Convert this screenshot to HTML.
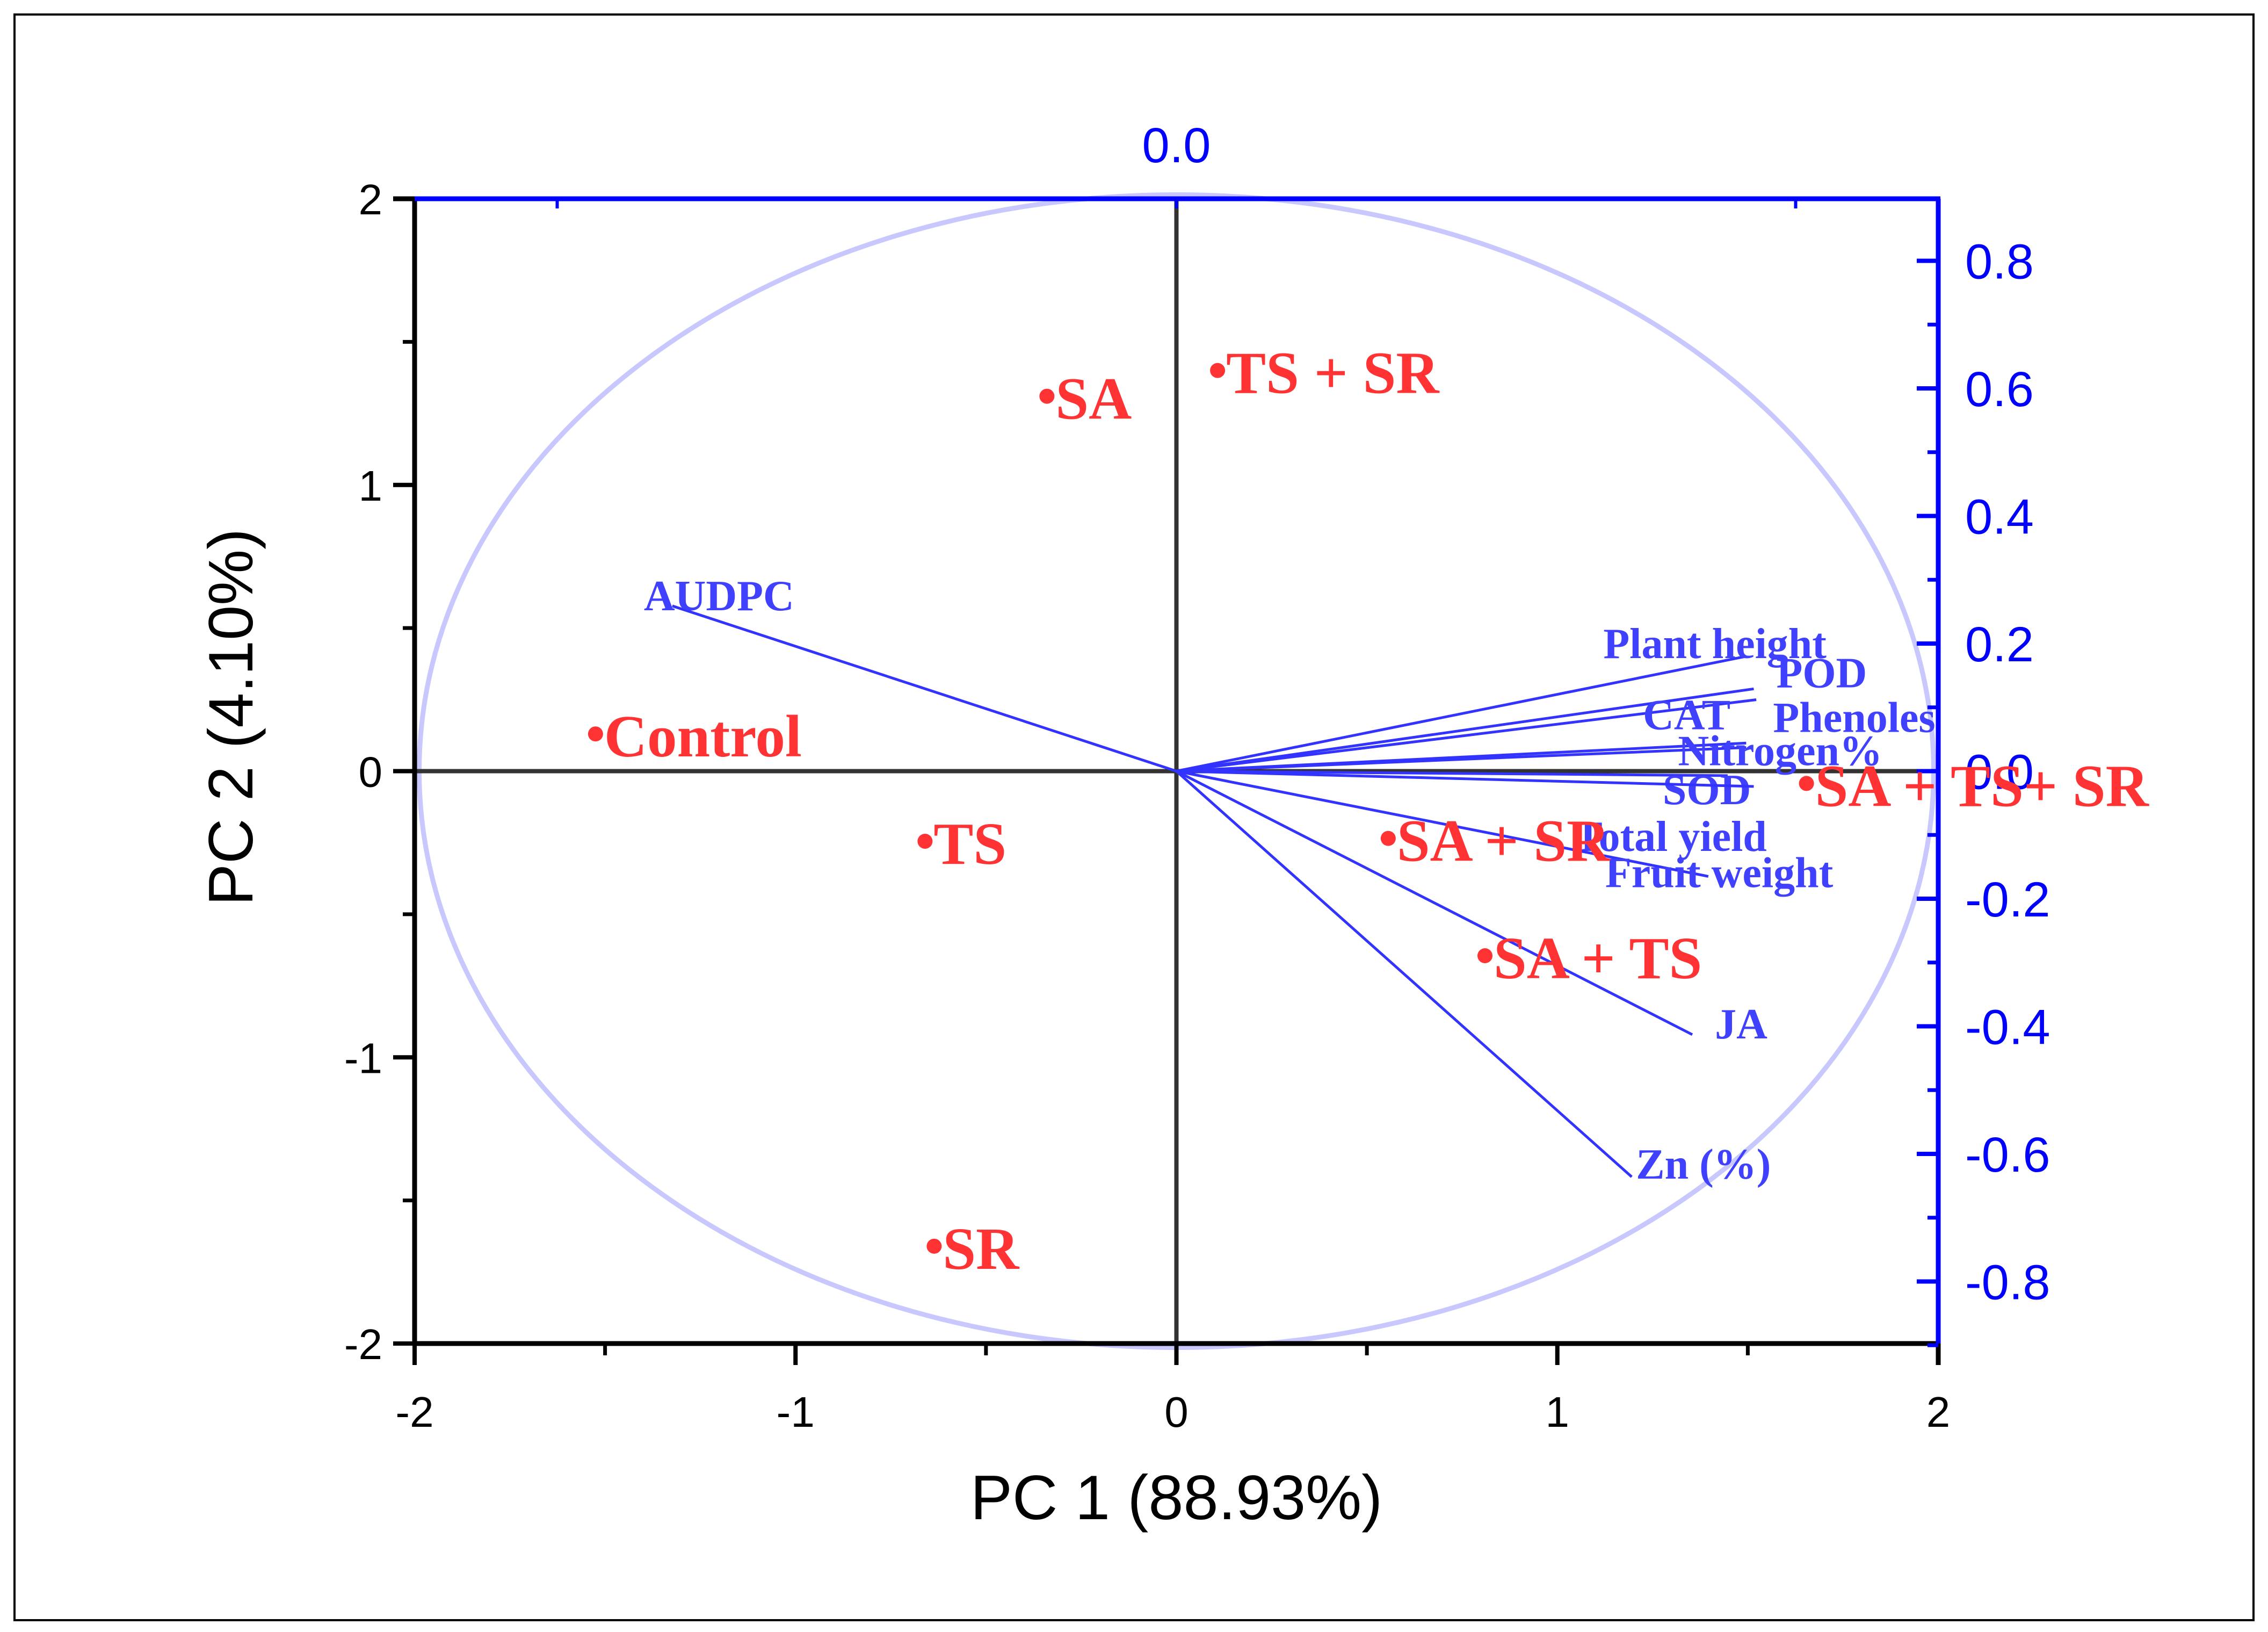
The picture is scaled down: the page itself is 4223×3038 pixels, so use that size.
<!DOCTYPE html>
<html><head><meta charset="utf-8"><style>
html,body{margin:0;padding:0;background:#fff;}
svg{display:block;}
</style></head><body>
<svg id="chart" width="4223" height="3038" viewBox="0 0 4223 3038" xmlns="http://www.w3.org/2000/svg">
<rect x="27" y="27" width="4169" height="2989" fill="#fff" stroke="#000" stroke-width="4"/>
<g id="layer"></g>
</svg>
<script>
// score data (PC1, PC2)
const scoreNames = ["SA","TS + SR","Control","TS","SR","SA + SR","SA + TS","SA + TS+ SR"];
const scoreX = [-0.34, 0.108, -1.525, -0.66, -0.636, 0.556, 0.81, 1.654];
const scoreY = [1.31, 1.40, 0.13, -0.245, -1.66, -0.235, -0.645, -0.043];
// loadings
const loadNames = ["AUDPC","Plant height","POD","CAT","Phenoles","Nitrogen%","SOD","Total yield","Fruit weight","JA","Zn (%)"];
const loadX = [-0.599, 0.677, 0.686, 0.689, 0.677, 0.677, 0.655, 0.686, 0.632, 0.613, 0.541];
const loadY = [0.259, 0.180, 0.129, 0.112, 0.044, 0.037, -0.007, -0.024, -0.165, -0.413, -0.636];
// label offsets (px) relative to vector tips
const loadLabDX = [-53, -266, 42, -211, 50, -127, -121, -335, -192, 42, 8];
const loadLabDY = [8, 3, -3, 55, -21, 33, 53, 120, 20, 7, 3];
const bottomTicks = [-2,-1,0,1,2];
const leftTicks = [-2,-1,0,1,2];
const rightTicks = [-0.8,-0.6,-0.4,-0.2,0.0,0.2,0.4,0.6,0.8];

const L=772, R=3609, T=370, B=2501;
const sx = v => L + (v+2)/4*(R-L);
const sy = v => B - (v+2)/4*(B-T);
const cx = sx(0), cy = sy(0);
const lx = v => cx + v*1567;
const ly = v => cy - v*1187.5;

const NS="http://www.w3.org/2000/svg";
const g=document.getElementById('layer');
function mk(tag, attrs, parent){const e=document.createElementNS(NS,tag);for(const k in attrs)e.setAttribute(k,attrs[k]);(parent||g).appendChild(e);return e;}

let el=mk('ellipse',{cx:cx,cy:cy,rx:1410,ry:1073,fill:'none',stroke:'#c8c8ff','stroke-width':9});


el=mk('line',{x1:L,y1:cy,x2:R,y2:cy,stroke:'#333','stroke-width':8});


el=mk('line',{x1:cx,y1:T,x2:cx,y2:B,stroke:'#333','stroke-width':8});



loadNames.forEach((n,i)=>{
  const x2=lx(loadX[i]), y2=ly(loadY[i]);
  const ln=mk('line',{x1:cx,y1:cy,x2:x2,y2:y2,stroke:'#3333ff','stroke-width':5});
  
  
  const t=mk('text',{x:x2+loadLabDX[i],y:y2+loadLabDY[i],fill:'#4040ff','font-family':'Liberation Serif, serif','font-weight':'bold','font-size':80});
  t.textContent=n;
  
  
});

el=mk('line',{x1:L,y1:B,x2:R,y2:B,stroke:'#000','stroke-width':9});


el=mk('line',{x1:L,y1:T,x2:L,y2:B,stroke:'#000','stroke-width':9});


el=mk('line',{x1:L-4,y1:T,x2:R+4,y2:T,stroke:'#0000ff','stroke-width':9});


el=mk('line',{x1:R,y1:T,x2:R,y2:B,stroke:'#0000ff','stroke-width':9});


mk('line',{x1:L-40,y1:T,x2:L,y2:T,stroke:'#000','stroke-width':9});
mk('line',{x1:R,y1:B,x2:R,y2:B+40,stroke:'#000','stroke-width':9});

bottomTicks.forEach(v=>{
  mk('line',{x1:sx(v),y1:B,x2:sx(v),y2:B+40,stroke:'#000','stroke-width':8});
  const t=mk('text',{x:sx(v),y:B+155,'text-anchor':'middle','font-family':'Liberation Sans, sans-serif','font-size':80,fill:'#000'});
  t.textContent=String(v);
  
  
});
[-1.5,-0.5,0.5,1.5].forEach(v=>mk('line',{x1:sx(v),y1:B,x2:sx(v),y2:B+22,stroke:'#000','stroke-width':7}));
leftTicks.forEach(v=>{
  mk('line',{x1:L-40,y1:sy(v),x2:L,y2:sy(v),stroke:'#000','stroke-width':8});
  const t=mk('text',{x:L-60,y:sy(v)+29,'text-anchor':'end','font-family':'Liberation Sans, sans-serif','font-size':80,fill:'#000'});
  t.textContent=String(v);
  
  
});
[-1.5,-0.5,0.5,1.5].forEach(v=>mk('line',{x1:L-22,y1:sy(v),x2:L,y2:sy(v),stroke:'#000','stroke-width':7}));
rightTicks.forEach(v=>{
  mk('line',{x1:R-40,y1:ly(v),x2:R,y2:ly(v),stroke:'#0000ff','stroke-width':8});
  const t=mk('text',{x:R+50,y:ly(v)+33,'font-family':'Liberation Sans, sans-serif','font-size':92,fill:'#0000ff'});
  t.textContent=v.toFixed(1);
  
  
});
[-0.9,-0.7,-0.5,-0.3,-0.1,0.1,0.3,0.5,0.7].forEach(v=>mk('line',{x1:R-20,y1:ly(v),x2:R,y2:ly(v),stroke:'#0000ff','stroke-width':7}));
[-1153,0,1153].forEach(d=>mk('line',{x1:cx+d,y1:T,x2:cx+d,y2:T+18,stroke:'#0000ff','stroke-width':6}));
el=mk('text',{x:cx,y:302,'text-anchor':'middle','font-family':'Liberation Sans, sans-serif','font-size':92,fill:'#0000ff'});
el.textContent='0.0';



el=mk('text',{x:cx,y:2828,'text-anchor':'middle','font-family':'Liberation Sans, sans-serif','font-size':117,fill:'#000'});
el.textContent='PC 1 (88.93%)';


el=mk('text',{x:0,y:0,'text-anchor':'middle','font-family':'Liberation Sans, sans-serif','font-size':117,fill:'#000',transform:'translate(470,1335) rotate(-90)'});
el.textContent='PC 2 (4.10%)';



scoreNames.forEach((n,i)=>{
  const x=sx(scoreX[i]), y=sy(scoreY[i]);
  const c=mk('circle',{cx:x,cy:y,r:14,fill:'#ff3333'});
  
  
  const t=mk('text',{x:x+16,y:y+42,fill:'#ff3333','font-family':'Liberation Serif, serif','font-weight':'bold','font-size':111});
  t.textContent=n;
  
  
});
</script>
</body></html>
